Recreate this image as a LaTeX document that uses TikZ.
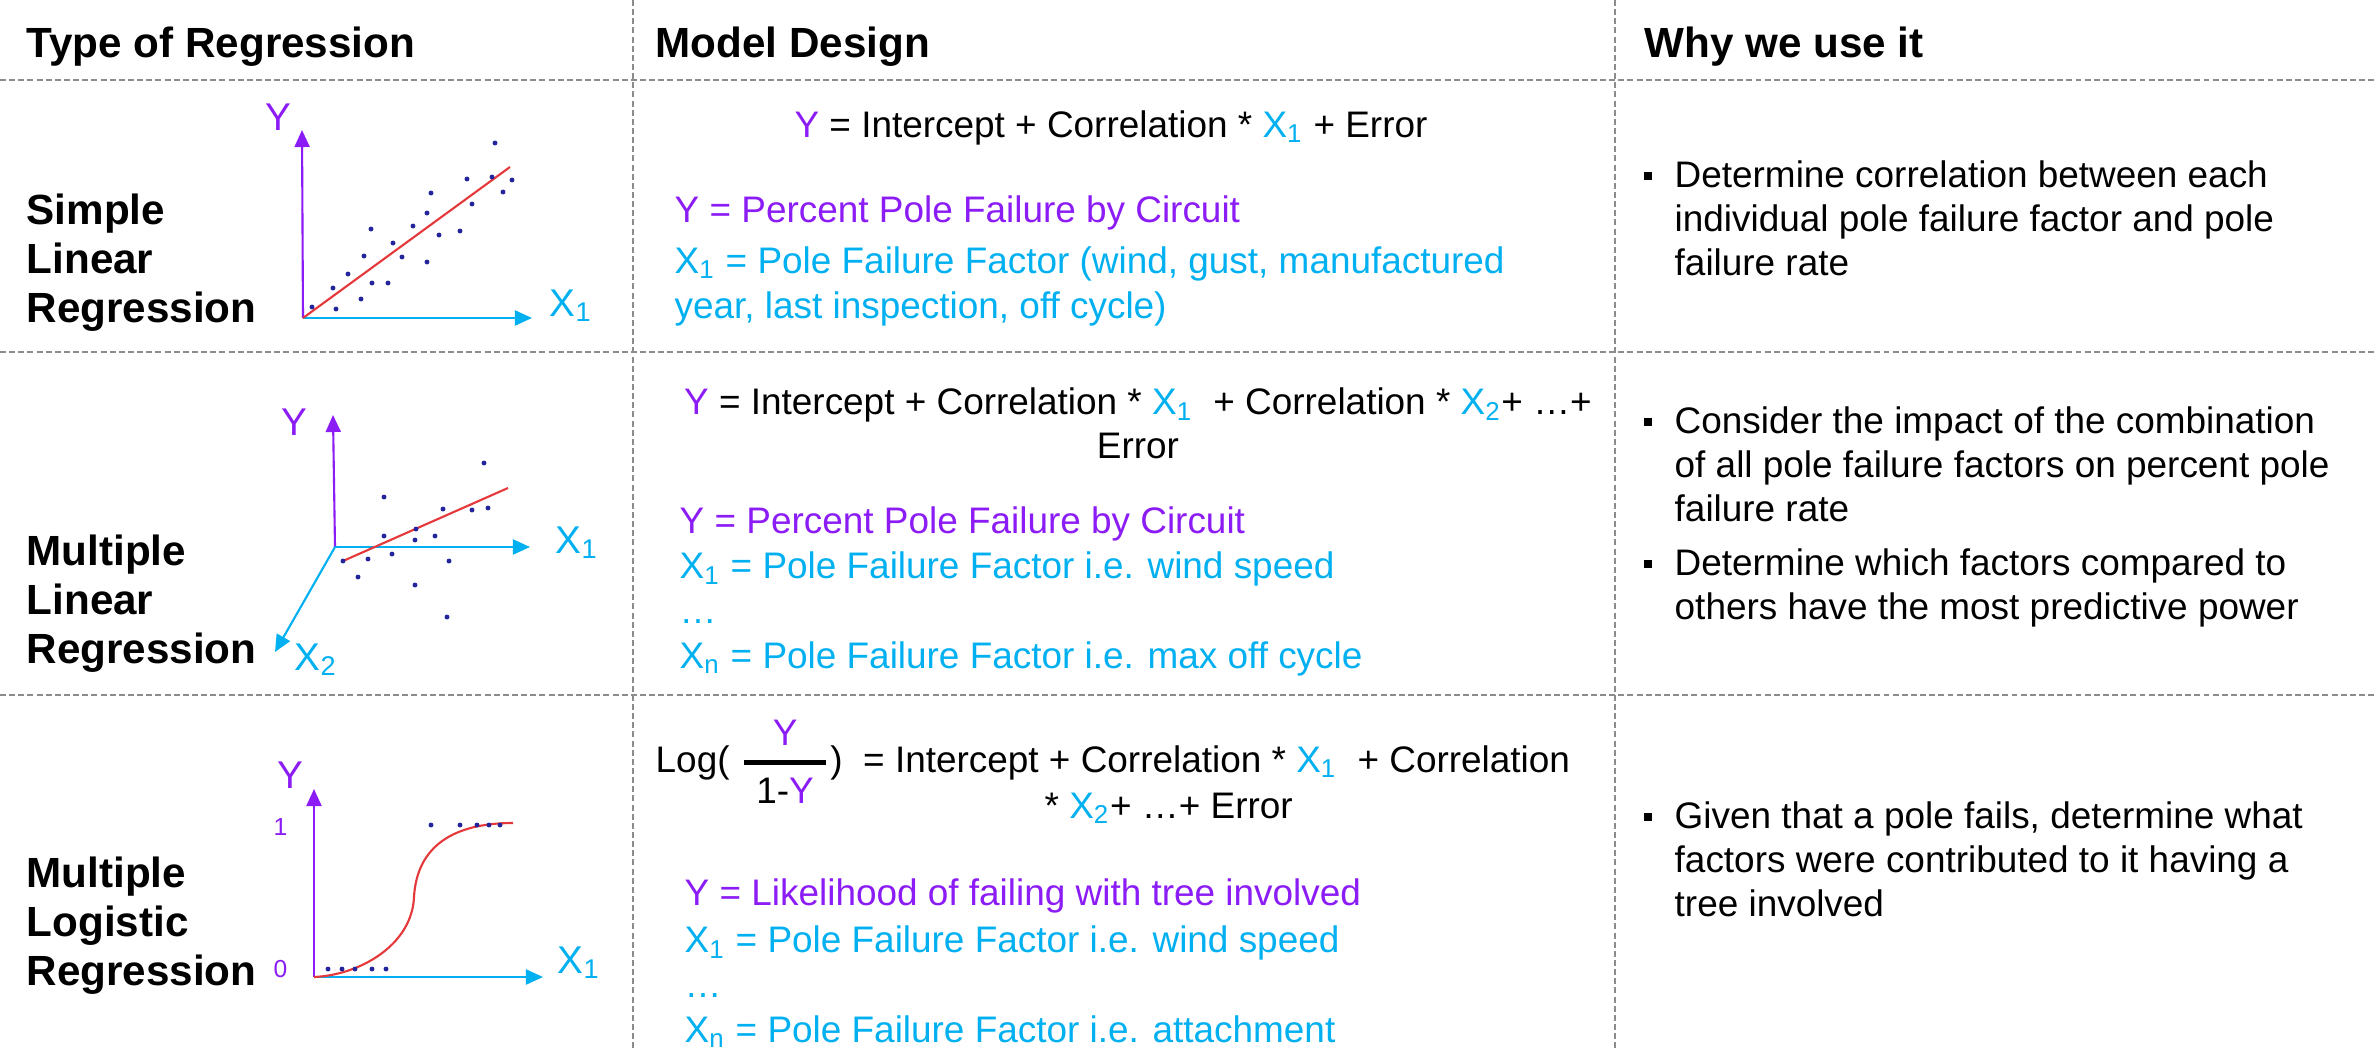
\documentclass[tikz,border=0pt]{standalone}
\usepackage{fontspec}
\setmainfont{Liberation Sans}
\usepackage{amsmath}
\usetikzlibrary{arrows.meta}
\definecolor{regPurple}{HTML}{8C1CF5}
\definecolor{regCyan}{HTML}{00B0F0}
\definecolor{regRed}{HTML}{E5383B}
\definecolor{regDot}{HTML}{23239C}
\definecolor{gridGray}{HTML}{8C8C8C}
\newcommand{\yv}{\textcolor{regPurple}{Y}}
\newcommand{\xv}[1]{\textcolor{regCyan}{X\textsubscript{#1}}}
\tikzset{
  gridline/.style={gridGray, line width=0.4pt, dash pattern=on 1.7pt off 0.9pt},
  headtext/.style={anchor=base west, inner sep=0pt, font=\fontsize{12}{14}\selectfont\bfseries},
  rowlabel/.style={anchor=base west, inner sep=0pt, align=left,
                   font=\fontsize{12}{13.9}\selectfont\bfseries},
  eqtext/.style={anchor=base, inner sep=0pt, align=center, font=\fontsize{10.5}{12.3}\selectfont},
  deftext/.style={anchor=base west, inner sep=0pt, align=left, font=\fontsize{10.5}{12.76}\selectfont},
  whytext/.style={anchor=base west, inner sep=0pt, align=left, font=\fontsize{10.5}{12.5}\selectfont},
  bulletmark/.style={fill=black, inner sep=0pt, minimum size=0.08cm},
  yaxis/.style={regPurple, line width=0.6pt, -{Triangle[length=0.17cm,width=0.15cm]}},
  xaxis/.style={regCyan, line width=0.6pt, -{Triangle[length=0.17cm,width=0.15cm]}},
  fitline/.style={regRed, line width=0.6pt},
  axlabel/.style={anchor=base west, inner sep=0pt, font=\fontsize{11}{13}\selectfont},
  ticklabel/.style={anchor=base west, inner sep=0pt, text=regPurple, font=\fontsize{7}{8}\selectfont},
}
\begin{document}
\begin{tikzpicture}[x=0.01cm, y=-0.01cm]
  \useasboundingbox[fill=white] (0,0) rectangle (2377,1048);

  % table rules
  \draw[gridline] (0,80) -- (2377,80);
  \draw[gridline] (0,352) -- (2377,352);
  \draw[gridline] (0,695) -- (2377,695);
  \draw[gridline] (633,0) -- (633,1048);
  \draw[gridline] (1615,0) -- (1615,1048);

  % header
  \node[headtext] (hType) at (26,57) {Type of Regression};
  \node[headtext] (hModel) at (655,57) {Model Design};
  \node[headtext] (hWhy) at (1644,57) {Why we use it};

  % row names (multi-line nodes sit on their last line)
  \node[rowlabel] (lblSimple) at (26,322) {Simple\\Linear\\Regression};
  \node[rowlabel] (lblMulti) at (26,663) {Multiple\\Linear\\Regression};
  \node[rowlabel] (lblLogit) at (26,985) {Multiple\\Logistic\\Regression};

  % simple linear sketch
  \coordinate (o1) at (303,318);
  \coordinate (y1) at (302,130);
  \coordinate (x1) at (532,318);
  \coordinate (f1) at (510,167);
  \draw[yaxis] (o1) -- (y1);
  \draw[xaxis] (o1) -- (x1);
  \draw[fitline] (o1) -- (f1);
  \foreach \p in {(495,143),(467,179),(492,177),(512,180),(503,192),(431,193),
                  (472,204),(427,213),(371,229),(413,226),(460,231),(439,235),
                  (393,243),(364,256),(402,257),(427,262),(348,274),(372,283),
                  (388,283),(333,288),(361,299),(336,309),(312,307)}
    \fill[regDot] \p circle (0.7pt);
  \node[axlabel, text=regPurple] (y1lbl) at (265,130) {Y};
  \node[axlabel, text=regCyan] (x1lbl) at (549,316) {X\textsubscript{1}};

  % multiple linear sketch
  \coordinate (o2) at (335,547);
  \coordinate (y2) at (333,415);
  \coordinate (x2a) at (530,547);
  \coordinate (x2b) at (275,652);
  \coordinate (f2a) at (343,561);
  \coordinate (f2b) at (508,488);
  \draw[yaxis] (o2) -- (y2);
  \draw[xaxis] (o2) -- (x2a);
  \draw[xaxis] (o2) -- (x2b);
  \draw[fitline] (f2a) -- (f2b);
  \foreach \p in {(484,463),(384,497),(443,509),(472,510),(488,508),(384,536),
                  (416,529),(415,540),(435,536),(392,554),(368,559),(449,561),
                  (343,561),(358,577),(415,585),(447,617)}
    \fill[regDot] \p circle (0.7pt);
  \node[axlabel, text=regPurple] (y2lbl) at (281,435) {Y};
  \node[axlabel, text=regCyan] (x2albl) at (555,553) {X\textsubscript{1}};
  \node[axlabel, text=regCyan] (x2blbl) at (294,670) {X\textsubscript{2}};

  % logistic sketch
  \coordinate (o3) at (314,977);
  \coordinate (y3) at (314,789);
  \coordinate (x3) at (543,977);
  \coordinate (s3) at (414,897);
  \coordinate (e3) at (513,823);
  \draw[yaxis] (o3) -- (y3);
  \draw[xaxis] (o3) -- (x3);
  \draw[fitline] (o3) .. controls (360,975) and (412,945) .. (s3)
                      .. controls (417,845) and (455,823) .. (e3);
  \foreach \p in {(328,969),(342,969),(355,969),(372,969),(386,969),
                  (431,825),(460,825),(477,825),(489,825),(500,825)}
    \fill[regDot] \p circle (0.7pt);
  \node[axlabel, text=regPurple] (y3lbl) at (277,788) {Y};
  \node[axlabel, text=regCyan] (x3lbl) at (557,973) {X\textsubscript{1}};
  \node[ticklabel] (one3) at (273,835) {1};
  \node[ticklabel] (zero3) at (273,977) {0};

  % model design
  \node[eqtext] (eqA) at (1111,137) {\yv{} = Intercept + Correlation * \xv{1} + Error};
  \node[deftext, text=regPurple] (defAy) at (674,222) {Y = Percent Pole Failure by Circuit};
  \node[deftext, text=regCyan] (defAx) at (674,318)
    {X\textsubscript{1} = Pole Failure Factor (wind, gust, manufactured\\year, last inspection, off cycle)};

  \node[eqtext] (eqB) at (1138,458)
    {\yv{} = Intercept + Correlation * \xv{1}\ \ + Correlation * \xv{2}+ …+\\Error};
  \node[deftext, text=regPurple] (defBy) at (679,533) {Y = Percent Pole Failure by Circuit};
  \node[deftext, text=regCyan] (defBx) at (679,668)
    {X\textsubscript{1} = Pole Failure Factor i.e. wind speed\\…\\X\textsubscript{n} = Pole Failure Factor i.e. max off cycle};

  \node[deftext] (eqC) at (655,772)
    {Log( $\genfrac{}{}{1.3pt}{0}{\text{\yv}}{\text{\,\,1-\yv\,\,}}$)\ \ = Intercept + Correlation * \xv{1}\ \ + Correlation};
  \node[deftext] (eqCb) at (1044,818) {* \xv{2}+ …+ Error};
  \node[deftext, text=regPurple] (defCy) at (684,905) {Y = Likelihood of failing with tree involved};
  \node[deftext, text=regCyan] (defCx) at (684,1042)
    {X\textsubscript{1} = Pole Failure Factor i.e. wind speed\\…\\X\textsubscript{n} = Pole Failure Factor i.e. attachment};

  % why we use it
  \node[bulletmark] (bA) at (1648,176) {};
  \node[whytext] (whyA) at (1674,275)
    {Determine correlation between each\\individual pole failure factor and pole\\failure rate};
  \node[bulletmark] (bB) at (1648,422) {};
  \node[whytext] (whyB) at (1674,521)
    {Consider the impact of the combination\\of all pole failure factors on percent pole\\failure rate};
  \node[bulletmark] (bC) at (1648,564) {};
  \node[whytext] (whyC) at (1674,619)
    {Determine which factors compared to\\others have the most predictive power};
  \node[bulletmark] (bD) at (1648,817) {};
  \node[whytext] (whyD) at (1674,916)
    {Given that a pole fails, determine what\\factors were contributed to it having a\\tree involved};
\end{tikzpicture}
\end{document}
